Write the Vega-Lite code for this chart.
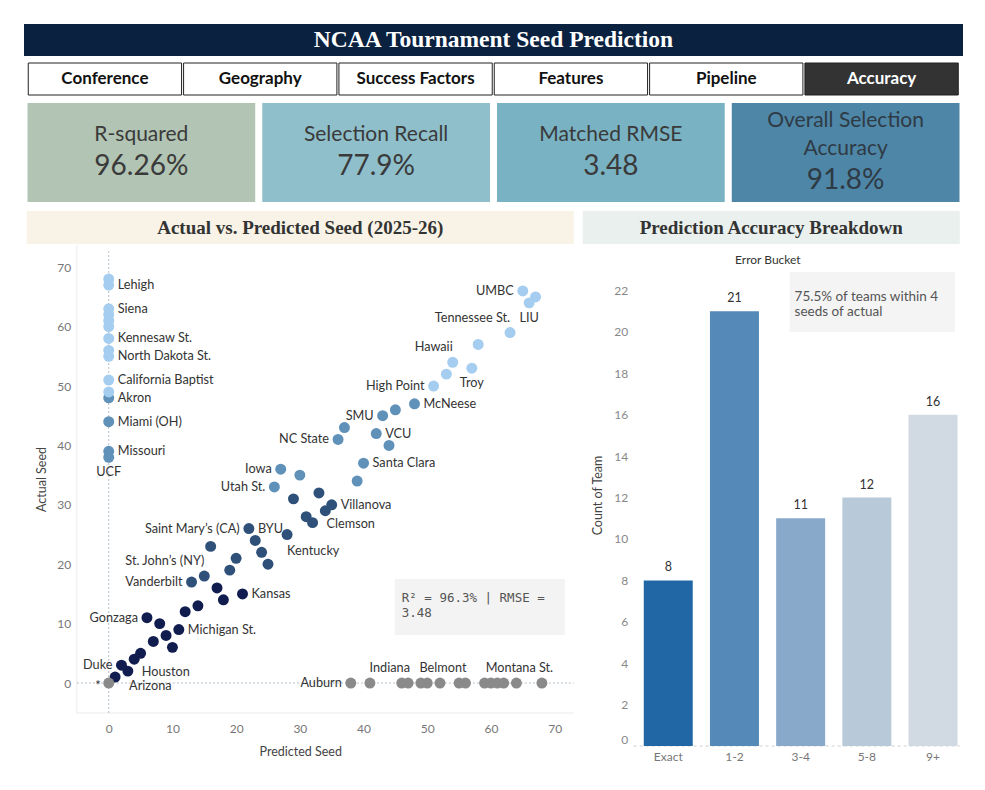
{
  "$schema": "https://vega.github.io/schema/vega-lite/v6.json",
  "background": "white",
  "padding": {"left": 24, "top": 24, "right": 0, "bottom": 0},
  "config": {"view": {"stroke": null}, "text": {"font": "Lato"}},
  "center": true,
  "spacing": 9,
  "vconcat": [
    {
      "center": true,
      "spacing": 7,
      "vconcat": [
        {
          "center": true,
          "spacing": 6,
          "vconcat": [
            {
              "width": 939, "height": 32,
              "view": {"fill": "#0b2140", "stroke": null},
              "data": {"values": [{"title": "NCAA Tournament Seed Prediction"}]},
              "mark": {"type": "text", "font": "Liberation Serif", "fontSize": 23.5, "fontWeight": "bold", "color": "white", "baseline": "middle", "align": "center"},
              "encoding": {"text": {"field": "title"}}
            },
            {
              "width": 930, "height": 32,
              "data": {"values": [{"tab": "Conference"}, {"tab": "Geography"}, {"tab": "Success Factors"}, {"tab": "Features"}, {"tab": "Pipeline"}, {"tab": "Accuracy"}]},
              "encoding": {"x": {"field": "tab", "type": "nominal", "sort": null, "axis": null, "scale": {"paddingInner": 0.013, "paddingOuter": 0}}},
              "layer": [
                {"mark": {"type": "rect", "stroke": "#222222", "strokeWidth": 1},
                 "encoding": {"fill": {"condition": {"test": "datum.tab === 'Accuracy'", "value": "#333333"}, "value": "white"}}},
                {"mark": {"type": "text", "font": "Lato", "fontSize": 17, "fontWeight": "bold", "baseline": "middle"},
                 "encoding": {"text": {"field": "tab"}, "color": {"condition": {"test": "datum.tab === 'Accuracy'", "value": "white"}, "value": "#111111"}}}
              ]
            }
          ]
        },
        {
          "width": 932, "height": 99,
          "data": {"values": [
            {"metric": "R-squared", "value": "96.26%"},
            {"metric": "Selection Recall", "value": "77.9%"},
            {"metric": "Matched RMSE", "value": "3.48"},
            {"metric": "Overall Selection\nAccuracy", "value": "91.8%"}
          ]},
          "encoding": {"x": {"field": "metric", "type": "nominal", "sort": null, "axis": null, "scale": {"paddingInner": 0.03, "paddingOuter": 0}}},
          "layer": [
            {"mark": {"type": "rect"},
             "encoding": {"fill": {"field": "metric", "type": "nominal", "sort": null, "legend": null, "scale": {"range": ["#b2c4b3", "#8fbfcb", "#79b2c2", "#4e86a7"]}}}},
            {"transform": [{"filter": "datum.value !== '91.8%'"}],
             "mark": {"type": "text", "font": "Lato", "fontSize": 21, "color": "#3a3a3a", "baseline": "middle", "dy": -17.5},
             "encoding": {"text": {"field": "metric"}}},
            {"transform": [{"filter": "datum.value === '91.8%'"}],
             "mark": {"type": "text", "font": "Lato", "fontSize": 21, "color": "#2e3a44", "baseline": "middle", "dy": -31.5, "lineBreak": "\n", "lineHeight": 28},
             "encoding": {"text": {"field": "metric"}}},
            {"transform": [{"filter": "datum.value !== '91.8%'"}],
             "mark": {"type": "text", "font": "Lato", "fontSize": 28, "color": "#3a3a3a", "baseline": "middle", "dy": 14.5},
             "encoding": {"text": {"field": "value"}}},
            {"transform": [{"filter": "datum.value === '91.8%'"}],
             "mark": {"type": "text", "font": "Lato", "fontSize": 28, "color": "#2e3a44", "baseline": "middle", "dy": 28.5},
             "encoding": {"text": {"field": "value"}}}
          ]
        }
      ]
    },
    {
      "spacing": 8,
      "hconcat": [
        {
          "spacing": 0,
          "vconcat": [
            {
              "width": 547, "height": 33,
              "view": {"fill": "#f8f3e6", "stroke": null},
              "data": {"values": [{"h": "Actual vs. Predicted Seed (2025-26)"}]},
              "mark": {"type": "text", "font": "Liberation Serif", "fontSize": 19, "fontWeight": "bold", "color": "#333333", "baseline": "middle"},
              "encoding": {"text": {"field": "h"}}
            },
            {
              "width": 547, "height": 468,
              "data": {"values": [
                {"team":"Arizona","pred":1,"actual":1},
                {"team":"Houston","pred":3,"actual":2},
                {"team":"Duke","pred":2,"actual":3},
                {"team":"","pred":4,"actual":4},
                {"team":"","pred":5,"actual":5},
                {"team":"","pred":10,"actual":6},
                {"team":"","pred":7,"actual":7},
                {"team":"","pred":9,"actual":8},
                {"team":"Michigan St.","pred":11,"actual":9},
                {"team":"","pred":8,"actual":10},
                {"team":"Gonzaga","pred":6,"actual":11},
                {"team":"","pred":12,"actual":12},
                {"team":"","pred":14,"actual":13},
                {"team":"","pred":18,"actual":14},
                {"team":"Kansas","pred":21,"actual":15},
                {"team":"","pred":17,"actual":16},
                {"team":"Vanderbilt","pred":13,"actual":17},
                {"team":"St. John’s (NY)","pred":15,"actual":18},
                {"team":"","pred":19,"actual":19},
                {"team":"","pred":25,"actual":20},
                {"team":"","pred":20,"actual":21},
                {"team":"","pred":24,"actual":22},
                {"team":"Saint Mary’s (CA)","pred":16,"actual":23},
                {"team":"","pred":23,"actual":24},
                {"team":"Kentucky","pred":28,"actual":25},
                {"team":"BYU","pred":22,"actual":26},
                {"team":"Clemson","pred":32,"actual":27},
                {"team":"","pred":31,"actual":28},
                {"team":"","pred":34,"actual":29},
                {"team":"Villanova","pred":35,"actual":30},
                {"team":"","pred":29,"actual":31},
                {"team":"","pred":33,"actual":32},
                {"team":"Utah St.","pred":26,"actual":33},
                {"team":"","pred":39,"actual":34},
                {"team":"","pred":30,"actual":35},
                {"team":"Iowa","pred":27,"actual":36},
                {"team":"Santa Clara","pred":40,"actual":37},
                {"team":"UCF","pred":0,"actual":38},
                {"team":"Missouri","pred":0,"actual":39},
                {"team":"","pred":44,"actual":40},
                {"team":"NC State","pred":36,"actual":41},
                {"team":"VCU","pred":42,"actual":42},
                {"team":"","pred":37,"actual":43},
                {"team":"Miami (OH)","pred":0,"actual":44},
                {"team":"SMU","pred":43,"actual":45},
                {"team":"","pred":45,"actual":46},
                {"team":"McNeese","pred":48,"actual":47},
                {"team":"Akron","pred":0,"actual":48},
                {"team":"","pred":0,"actual":49},
                {"team":"High Point","pred":51,"actual":50},
                {"team":"California Baptist","pred":0,"actual":51},
                {"team":"","pred":53,"actual":52},
                {"team":"Troy","pred":57,"actual":53},
                {"team":"Hawaii","pred":54,"actual":54},
                {"team":"North Dakota St.","pred":0,"actual":55},
                {"team":"","pred":0,"actual":56},
                {"team":"","pred":58,"actual":57},
                {"team":"Kennesaw St.","pred":0,"actual":58},
                {"team":"Tennessee St.","pred":63,"actual":59},
                {"team":"","pred":0,"actual":60},
                {"team":"","pred":0,"actual":61},
                {"team":"","pred":0,"actual":62},
                {"team":"Siena","pred":0,"actual":63},
                {"team":"LIU","pred":66,"actual":64},
                {"team":"","pred":67,"actual":65},
                {"team":"UMBC","pred":65,"actual":66},
                {"team":"Lehigh","pred":0,"actual":67},
                {"team":"","pred":0,"actual":68},
                {"team":"*","pred":0,"actual":0},
                {"team":"Auburn","pred":38,"actual":0},
                {"team":"","pred":41,"actual":0},
                {"team":"Indiana","pred":46,"actual":0},
                {"team":"","pred":47,"actual":0},
                {"team":"","pred":49,"actual":0},
                {"team":"","pred":50,"actual":0},
                {"team":"Belmont","pred":52,"actual":0},
                {"team":"","pred":55,"actual":0},
                {"team":"","pred":56,"actual":0},
                {"team":"","pred":59,"actual":0},
                {"team":"","pred":60,"actual":0},
                {"team":"","pred":61,"actual":0},
                {"team":"","pred":62,"actual":0},
                {"team":"Montana St.","pred":64,"actual":0},
                {"team":"","pred":68,"actual":0}
              ]},
              "layer": [
                {
                  "data": {"values": [{}]},
                  "mark": {"type": "rule", "color": "#ebebeb", "strokeWidth": 1},
                  "encoding": {
                    "x": {"datum": -5.0, "type": "quantitative", "scale": {"domain": [-12.87, 73.0], "nice": false, "zero": false}},
                    "y": {"datum": -5.05, "type": "quantitative", "scale": {"domain": [-5.05, 73.74], "nice": false, "zero": false}},
                    "y2": {"datum": 73.74}
                  }
                },
                {
                  "data": {"values": [{}]},
                  "mark": {"type": "rule", "color": "#ebebeb", "strokeWidth": 1},
                  "encoding": {
                    "x": {"datum": -5.0, "type": "quantitative", "scale": {"domain": [-12.87, 73.0], "nice": false, "zero": false}},
                    "x2": {"datum": 73.0},
                    "y": {"datum": -5.05, "type": "quantitative", "scale": {"domain": [-5.05, 73.74], "nice": false, "zero": false}}
                  }
                },
                {
                  "data": {"values": [{}]},
                  "mark": {"type": "rule", "color": "#b4c0cc", "strokeWidth": 1, "strokeDash": [2, 2]},
                  "encoding": {
                    "x": {"datum": 0, "type": "quantitative", "scale": {"domain": [-12.87, 73.0], "nice": false, "zero": false}},
                    "y": {"datum": -5.05, "type": "quantitative", "scale": {"domain": [-5.05, 73.74], "nice": false, "zero": false}},
                    "y2": {"datum": 72.7}
                  }
                },
                {
                  "data": {"values": [{}]},
                  "mark": {"type": "rule", "color": "#b4c0cc", "strokeWidth": 1, "strokeDash": [2, 2]},
                  "encoding": {
                    "x": {"datum": -5.0, "type": "quantitative", "scale": {"domain": [-12.87, 73.0], "nice": false, "zero": false}},
                    "x2": {"datum": 73.0},
                    "y": {"datum": 0, "type": "quantitative", "scale": {"domain": [-5.05, 73.74], "nice": false, "zero": false}}
                  }
                },
                {
                  "data": {"values": [{}]},
                  "mark": {"type": "rect", "fill": "#f3f3f3"},
                  "encoding": {
                    "x": {"datum": 44.9, "type": "quantitative", "scale": {"domain": [-12.87, 73.0], "nice": false, "zero": false}},
                    "x2": {"datum": 71.6},
                    "y": {"datum": 17.5, "type": "quantitative", "scale": {"domain": [-5.05, 73.74], "nice": false, "zero": false}},
                    "y2": {"datum": 8.1}
                  }
                },
                {
                  "data": {"values": [{}]},
                  "mark": {"type": "text", "font": "DejaVu Sans Mono", "fontSize": 12.5, "color": "#555555", "align": "left", "baseline": "middle", "lineHeight": 15, "text": ["R² = 96.3% | RMSE =", "3.48"]},
                  "encoding": {
                    "x": {"datum": 46.0, "type": "quantitative", "scale": {"domain": [-12.87, 73.0], "nice": false, "zero": false}},
                    "y": {"datum": 14.31, "type": "quantitative", "scale": {"domain": [-5.05, 73.74], "nice": false, "zero": false}}
                  }
                },
                {
                  "mark": {"type": "circle", "size": 120, "opacity": 1},
                  "encoding": {
                    "x": {"field": "pred", "type": "quantitative", "title": "Predicted Seed",
                          "scale": {"domain": [-12.87, 73.0], "nice": false, "zero": false},
                          "axis": {"values": [0, 10, 20, 30, 40, 50, 60, 70], "grid": false, "domain": false, "ticks": false, "labelColor": "#777777", "labelFont": "Lato", "labelFontSize": 12, "labelPadding": 10, "titleFont": "Lato", "titleFontSize": 12.5, "titleFontWeight": "normal", "titleColor": "#444444", "titlePadding": 11}},
                    "y": {"field": "actual", "type": "quantitative", "title": "Actual Seed",
                          "scale": {"domain": [-5.05, 73.74], "nice": false, "zero": false},
                          "axis": {"values": [0, 10, 20, 30, 40, 50, 60, 70], "grid": false, "domain": false, "ticks": false, "offset": -46, "labelPadding": 2, "labelColor": "#777777", "labelFont": "Lato", "labelFontSize": 12, "titleFont": "Lato", "titleFontSize": 12.5, "titleFontWeight": "normal", "titleColor": "#444444", "titlePadding": 8}},
                    "color": {"field": "actual", "type": "quantitative", "legend": null,
                              "scale": {"type": "threshold", "domain": [0.5, 16.5, 32.5, 48.5], "range": ["#8a8a8a", "#111d4f", "#2f5079", "#5f91b9", "#a4cdef"]}}
                  }
                },
                {
                  "transform": [{"filter": {"field": "team", "oneOf": ["Lehigh", "Siena", "Kennesaw St.", "North Dakota St.", "California Baptist", "Akron", "Miami (OH)", "Missouri", "Michigan St.", "Kansas", "BYU", "Villanova", "Santa Clara", "McNeese", "VCU"]}}],
                  "mark": {"type": "text", "font": "Lato", "fontSize": 12.7, "color": "#333333", "align": "left", "baseline": "middle", "dx": 9},
                  "encoding": {
                    "x": {"field": "pred", "type": "quantitative"},
                    "y": {"field": "actual", "type": "quantitative"},
                    "text": {"field": "team"}
                  }
                },
                {
                  "transform": [{"filter": {"field": "team", "oneOf": ["Gonzaga", "Duke", "Vanderbilt", "Utah St.", "Iowa", "NC State", "SMU", "High Point", "UMBC", "Auburn"]}}],
                  "mark": {"type": "text", "font": "Lato", "fontSize": 12.7, "color": "#333333", "align": "right", "baseline": "middle", "dx": -9},
                  "encoding": {
                    "x": {"field": "pred", "type": "quantitative"},
                    "y": {"field": "actual", "type": "quantitative"},
                    "text": {"field": "team"}
                  }
                },
                {
                  "transform": [{"filter": {"field": "team", "oneOf": ["*"]}}],
                  "mark": {"type": "text", "font": "Lato", "fontSize": 13, "color": "#333333", "align": "right", "baseline": "middle", "dx": -8, "dy": 3},
                  "encoding": {
                    "x": {"field": "pred", "type": "quantitative"},
                    "y": {"field": "actual", "type": "quantitative"},
                    "text": {"field": "team"}
                  }
                },
                {
                  "transform": [{"filter": {"field": "team", "oneOf": ["UCF", "LIU", "Troy"]}}],
                  "mark": {"type": "text", "font": "Lato", "fontSize": 12.7, "color": "#333333", "align": "center", "baseline": "middle", "dy": 15},
                  "encoding": {
                    "x": {"field": "pred", "type": "quantitative"},
                    "y": {"field": "actual", "type": "quantitative"},
                    "text": {"field": "team"}
                  }
                },
                {
                  "transform": [{"filter": {"field": "team", "oneOf": ["Belmont", "Montana St."]}}],
                  "mark": {"type": "text", "font": "Lato", "fontSize": 12.7, "color": "#333333", "align": "center", "baseline": "middle", "dy": -15, "dx": 3},
                  "encoding": {
                    "x": {"field": "pred", "type": "quantitative"},
                    "y": {"field": "actual", "type": "quantitative"},
                    "text": {"field": "team"}
                  }
                },
                {
                  "transform": [{"filter": {"field": "team", "oneOf": ["Indiana"]}}],
                  "mark": {"type": "text", "font": "Lato", "fontSize": 12.7, "color": "#333333", "align": "center", "baseline": "middle", "dy": -15, "dx": -12},
                  "encoding": {
                    "x": {"field": "pred", "type": "quantitative"},
                    "y": {"field": "actual", "type": "quantitative"},
                    "text": {"field": "team"}
                  }
                },
                {
                  "transform": [{"filter": {"field": "team", "oneOf": ["St. John’s (NY)", "Tennessee St.", "Hawaii"]}}],
                  "mark": {"type": "text", "font": "Lato", "fontSize": 12.7, "color": "#333333", "align": "right", "baseline": "middle", "dy": -15},
                  "encoding": {
                    "x": {"field": "pred", "type": "quantitative"},
                    "y": {"field": "actual", "type": "quantitative"},
                    "text": {"field": "team"}
                  }
                },
                {
                  "transform": [{"filter": {"field": "team", "oneOf": ["Arizona"]}}],
                  "mark": {"type": "text", "font": "Lato", "fontSize": 12.7, "color": "#333333", "align": "left", "baseline": "middle", "dx": 14, "dy": 9},
                  "encoding": {
                    "x": {"field": "pred", "type": "quantitative"},
                    "y": {"field": "actual", "type": "quantitative"},
                    "text": {"field": "team"}
                  }
                },
                {
                  "transform": [{"filter": {"field": "team", "oneOf": ["Houston", "Clemson"]}}],
                  "mark": {"type": "text", "font": "Lato", "fontSize": 12.7, "color": "#333333", "align": "left", "baseline": "middle", "dx": 14, "dy": 1},
                  "encoding": {
                    "x": {"field": "pred", "type": "quantitative"},
                    "y": {"field": "actual", "type": "quantitative"},
                    "text": {"field": "team"}
                  }
                },
                {
                  "transform": [{"filter": {"field": "team", "oneOf": ["Kentucky"]}}],
                  "mark": {"type": "text", "font": "Lato", "fontSize": 12.7, "color": "#333333", "align": "left", "baseline": "middle", "dx": 0, "dy": 16},
                  "encoding": {
                    "x": {"field": "pred", "type": "quantitative"},
                    "y": {"field": "actual", "type": "quantitative"},
                    "text": {"field": "team"}
                  }
                },
                {
                  "transform": [{"filter": {"field": "team", "oneOf": ["Saint Mary’s (CA)"]}}],
                  "mark": {"type": "text", "font": "Lato", "fontSize": 12.7, "color": "#333333", "align": "right", "baseline": "middle", "dx": 29, "dy": -17},
                  "encoding": {
                    "x": {"field": "pred", "type": "quantitative"},
                    "y": {"field": "actual", "type": "quantitative"},
                    "text": {"field": "team"}
                  }
                }
              ]
            }
          ]
        },
        {
          "spacing": 0,
          "vconcat": [
            {
              "width": 377, "height": 33,
              "view": {"fill": "#e9f0ee", "stroke": null},
              "data": {"values": [{"h": "Prediction Accuracy Breakdown"}]},
              "mark": {"type": "text", "font": "Liberation Serif", "fontSize": 19, "fontWeight": "bold", "color": "#333333", "baseline": "middle"},
              "encoding": {"text": {"field": "h"}}
            },
            {
              "width": 377, "height": 502,
              "resolve": {"scale": {"x": "independent"}, "axis": {"x": "independent"}},
              "layer": [
                {
                  "data": {"values": [{"note": "75.5% of teams within 4 seeds of actual"}]},
                  "layer": [
                    {
                      "mark": {"type": "rect", "fill": "#f4f4f4"},
                      "encoding": {
                        "x": {"datum": 0.549, "type": "quantitative", "scale": {"domain": [0, 1], "nice": false, "zero": false}, "axis": null},
                        "x2": {"datum": 0.987},
                        "y": {"datum": 22.9, "type": "quantitative", "scale": {"domain": [0, 24.25], "nice": false, "zero": false}},
                        "y2": {"datum": 20.0}
                      }
                    },
                    {
                      "mark": {"type": "rule", "color": "#d0d0d0", "strokeWidth": 1, "strokeDash": [3, 3]},
                      "encoding": {
                        "x": {"datum": 0.135, "type": "quantitative", "scale": {"domain": [0, 1], "nice": false, "zero": false}, "axis": null},
                        "x2": {"datum": 1.0},
                        "y": {"datum": 0, "type": "quantitative", "scale": {"domain": [0, 24.25], "nice": false, "zero": false}}
                      }
                    },
                    {
                      "mark": {"type": "text", "font": "Lato", "fontSize": 13.5, "color": "#555555", "align": "left", "baseline": "middle", "lineHeight": 15, "text": ["75.5% of teams within 4", "seeds of actual"]},
                      "encoding": {
                        "x": {"datum": 0.562, "type": "quantitative", "scale": {"domain": [0, 1], "nice": false, "zero": false}, "axis": null},
                        "y": {"datum": 21.69, "type": "quantitative", "scale": {"domain": [0, 24.25], "nice": false, "zero": false}}
                      }
                    },
                    {
                      "mark": {"type": "text", "font": "Lato", "fontSize": 12, "color": "#333333", "align": "center", "baseline": "middle", "text": "Error Bucket"},
                      "encoding": {
                        "x": {"datum": 0.491, "type": "quantitative", "scale": {"domain": [0, 1], "nice": false, "zero": false}, "axis": null},
                        "y": {"datum": 23.48, "type": "quantitative", "scale": {"domain": [0, 24.25], "nice": false, "zero": false}}
                      }
                    }
                  ]
                },
                {
                  "data": {"values": [
                    {"bucket": "Exact", "count": 8},
                    {"bucket": "1-2", "count": 21},
                    {"bucket": "3-4", "count": 11},
                    {"bucket": "5-8", "count": 12},
                    {"bucket": "9+", "count": 16}
                  ]},
                  "encoding": {
                    "x": {"field": "bucket", "type": "nominal", "sort": null, "title": null,
                          "scale": {"paddingInner": 0.26, "paddingOuter": 0.4775, "align": 0.965},
                          "axis": {"labelAngle": 0, "domain": false, "ticks": false, "labelPadding": 5, "labelColor": "#777777", "labelFont": "Lato", "labelFontSize": 12}},
                    "y": {"field": "count", "type": "quantitative", "title": "Count of Team",
                          "scale": {"domain": [0, 24.25], "nice": false, "zero": false},
                          "axis": {"values": [0, 2, 4, 6, 8, 10, 12, 14, 16, 18, 20, 22], "grid": false, "domain": false, "ticks": false, "offset": -47, "labelPadding": 2, "labelFlush": true, "labelColor": "#888888", "labelFont": "Lato", "labelFontSize": 12, "titleFont": "Lato", "titleFontSize": 12.5, "titleFontWeight": "normal", "titleColor": "#444444", "titlePadding": 9}}
                  },
                  "layer": [
                    {"mark": {"type": "bar"},
                     "encoding": {"color": {"field": "bucket", "type": "nominal", "legend": null, "scale": {"domain": ["Exact", "1-2", "3-4", "5-8", "9+"], "range": ["#2166a5", "#5589b8", "#89a9cb", "#b8c9da", "#d1dae3"]}}}},
                    {"mark": {"type": "text", "font": "Lato", "fontSize": 12.5, "color": "#333333", "baseline": "bottom", "dy": -6},
                     "encoding": {"text": {"field": "count", "type": "quantitative"}}}
                  ]
                }
              ]
            }
          ]
        }
      ]
    }
  ]
}
